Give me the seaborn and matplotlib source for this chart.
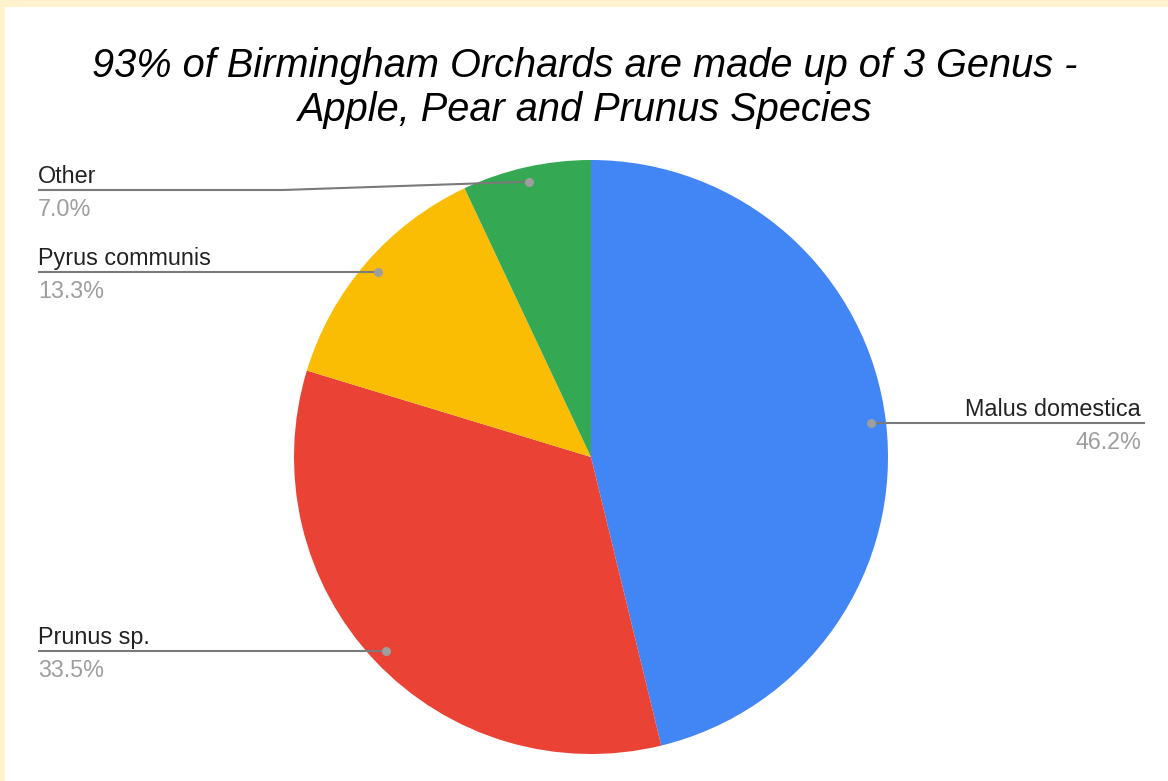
import numpy as np
import matplotlib
matplotlib.use("Agg")
import matplotlib.pyplot as plt
from matplotlib.patches import Rectangle
import seaborn as sns

# ---- data ----
categories = ["Malus domestica", "Prunus sp.", "Pyrus communis", "Other"]
values = [46.2, 33.5, 13.3, 7.0]
colors = ["#4285F4", "#EA4335", "#FBBC04", "#34A853"]
title_text = "93% of Birmingham Orchards are made up of 3 Genus -\nApple, Pear and Prunus Species"

sns.set_style("white")
plt.rcParams['font.family'] = ['Liberation Sans', 'DejaVu Sans']

W, H = 1168, 781
fig = plt.figure(figsize=(W / 100, H / 100), dpi=100)
fig.patch.set_facecolor("#FFF2CC")
fig.patches.append(Rectangle((5 / W, 0), 1 - 5 / W, 1 - 7 / H, transform=fig.transFigure,
                             facecolor="white", edgecolor="none", zorder=0))

# pie geometry in pixels
cx, cy, R = 591, 457, 297
ax = fig.add_axes([0, 0, 1, 1])
ax.set_zorder(2)
ax.set_facecolor("none")

ax.pie(values, colors=colors, startangle=90, counterclock=False, radius=1,
       wedgeprops=dict(linewidth=0))

ax.set_xlim(-cx / R, (W - cx) / R)
ax.set_ylim(-(H - cy) / R, cy / R)
ax.set_aspect("equal")
ax.axis("off")

def px(x):
    return (x - cx) / R

def py(y):
    return (cy - y) / R

total = sum(values)
cum = np.cumsum([0] + values[:-1])
fs = 16.8
line_col = "#7a7a7a"
dot_col = "#9e9e9e"
for i, (cat, v) in enumerate(zip(categories, values)):
    mid = 90 - (cum[i] + v / 2) / total * 360
    r = 0.95
    dx, dy = r * np.cos(np.radians(mid)), r * np.sin(np.radians(mid))
    pct = f"{v / total * 100:.1f}%"
    if dx > 0:
        ly = dy
        xs = [dx, px(1145)]
        ys = [ly, ly]
        tx, ha = px(1141), "right"
    else:
        if cat == "Other":
            ly = py(190)
            xs = [dx, px(283), px(38)]
            ys = [dy, ly, ly]
        else:
            ly = dy
            xs = [dx, px(38)]
            ys = [ly, ly]
        tx, ha = px(38), "left"
    ax.plot(xs, ys, color=line_col, lw=1.5, zorder=3, solid_capstyle="butt")
    ax.plot([dx], [dy], "o", color=dot_col, ms=6.5, mec="none", zorder=4)
    ax.text(tx, ly + 7 / R, cat, ha=ha, va="baseline", fontsize=fs, color="#222222")
    ax.text(tx, ly - 26 / R, pct, ha=ha, va="baseline", fontsize=fs, color="#9e9e9e")

fig.text(585 / W, 1 - 121 / H, title_text, ha="center", va="baseline", fontsize=28.6,
         style="italic", color="#000000", linespacing=1.2, zorder=3)

fig.savefig("out.png", dpi=100, facecolor=fig.get_facecolor())
